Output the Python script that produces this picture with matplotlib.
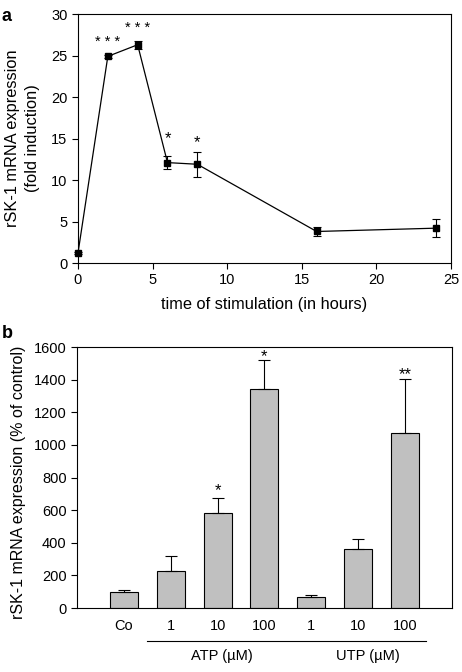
import matplotlib.pyplot as plt

plt.rcParams['font.family'] = ['Liberation Sans', 'DejaVu Sans']

# panel a: time course
hours = [0, 2, 4, 6, 8, 16, 24]
fold = [1.2, 24.9, 26.3, 12.1, 11.9, 3.8, 4.2]
fold_err = [0.1, 0.2, 0.5, 0.8, 1.5, 0.5, 1.1]
stars_a = ['* * *', '* * *', '*', '*']
star_x_a = [2, 4, 6, 8]
star_y_a = [27.0, 28.7, 15.4, 14.9]

# panel b: nucleotide dose response
conc_labels = ['Co', '1', '10', '100', '1', '10', '100']
percent = [100, 230, 580, 1345, 65, 360, 1070]
percent_err = [10, 90, 95, 175, 13, 65, 335]
stars_b = ['*', '*', '**']
star_x_b = [2, 3, 6]
star_y_b = [740, 1560, 1450]

fig = plt.figure(figsize=(4.62, 6.72), dpi=100)

ax1 = fig.add_axes([0.1688, 0.6086, 0.8072, 0.3705])
ax1.errorbar(hours, fold, yerr=fold_err, color='black', lw=0.9, marker='s',
             ms=4, capsize=3, elinewidth=0.8, capthick=0.8, clip_on=False)
for x, y, s in zip(star_x_a, star_y_a, stars_a):
    # asterisk glyph sits high, so shift the baseline down
    fs = 10.5 if len(s) > 1 else 12
    ax1.text(x, y - 0.9, s, ha='center', va='baseline', fontsize=fs)
ax1.set_xlim(0, 25)
ax1.set_ylim(0, 30)
ax1.set_xticks(range(0, 26, 5))
ax1.set_yticks(range(0, 31, 5))
ax1.tick_params(labelsize=10.5, direction='out', length=4, width=0.8)
ax1.set_xlabel('time of stimulation (in hours)', fontsize=11.8, labelpad=7)
ax1.set_ylabel('rSK-1 mRNA expression\n(fold induction)', fontsize=11.8,
               labelpad=8, linespacing=1.4)
for sp in ax1.spines.values():
    sp.set_linewidth(0.8)
fig.text(0.003, 0.988, 'a', fontsize=13, fontweight='bold', va='top')

ax2 = fig.add_axes([0.1667, 0.0952, 0.8113, 0.3884])
pos = list(range(len(percent)))
ax2.bar(pos, percent, width=0.6, color='#c0c0c0', edgecolor='black', lw=0.8)
ax2.errorbar(pos, percent, yerr=[[0] * len(percent), percent_err], fmt='none',
             ecolor='black', elinewidth=0.8, capsize=4, capthick=0.8)
for x, y, s in zip(star_x_b, star_y_b, stars_b):
    ax2.text(x, y - 45, s, ha='center', va='baseline', fontsize=12)
ax2.set_xlim(-1, 7)
ax2.set_ylim(0, 1600)
ax2.set_yticks(range(0, 1601, 200))
ax2.set_xticks(pos)
ax2.set_xticklabels(conc_labels)
ax2.tick_params(axis='x', length=0, pad=8, labelsize=10.5)
ax2.tick_params(axis='y', direction='out', length=4, width=0.8, labelsize=10.5)
ax2.set_ylabel('rSK-1 mRNA expression (% of control)', fontsize=11.5, labelpad=10)
ax2.yaxis.set_label_coords(-0.135, 0.48)
for sp in ax2.spines.values():
    sp.set_linewidth(0.8)
ax2.plot([0.5, 6.45], [-200, -200], color='black', lw=0.8, clip_on=False)
ax2.text(2.1, -250, 'ATP (µM)', ha='center', va='top', fontsize=10.5)
ax2.text(5.2, -250, 'UTP (µM)', ha='center', va='top', fontsize=10.5)
fig.text(0.003, 0.516, 'b', fontsize=13, fontweight='bold', va='top')

fig.savefig('out.png', dpi=100)
